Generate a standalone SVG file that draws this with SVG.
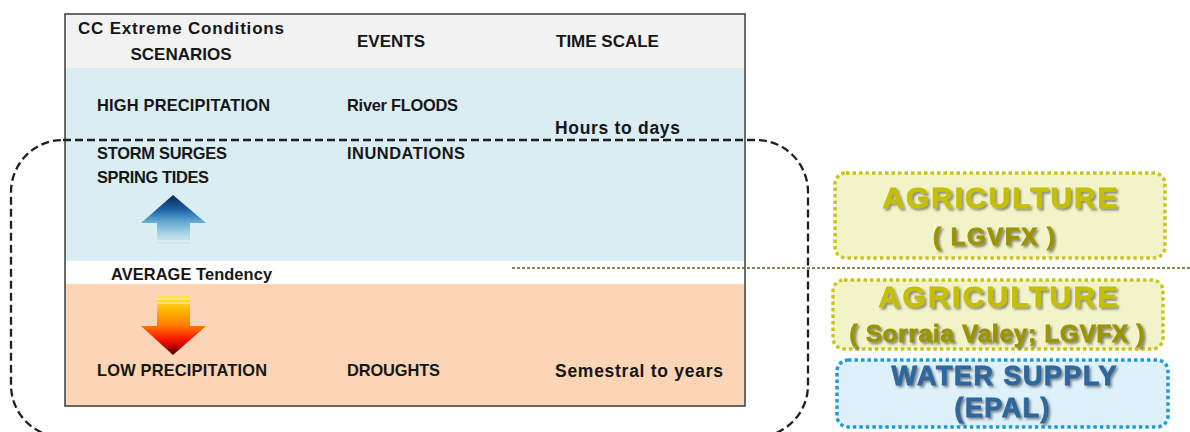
<svg xmlns="http://www.w3.org/2000/svg" width="1190" height="432" viewBox="0 0 1190 432">
  <style>
    .t { font-family: "Liberation Sans", Arial, sans-serif; font-weight: bold; fill: #161616; }
    .h { font-size: 17px; }
    .c { font-size: 16.4px; }
    .m { font-size: 17.5px; }
    .box-agri { fill: #f3f3c9; stroke: #c9c41a; stroke-width: 3.5; stroke-dasharray: 3.5 3; }
    .box-water { fill: #ddf1fb; stroke: #1e9bd7; stroke-width: 3.5; stroke-dasharray: 3.5 3; }
    .big { font-family: "Liberation Sans", Arial, sans-serif; font-weight: bold; text-anchor: middle; filter: url(#soft); stroke-width: 0.9; }
    .agri1 { fill: #c4bf00; stroke: #c4bf00; font-size: 30px; }
    .agri2 { fill: #9a9400; stroke: #9a9400; font-size: 24px; }
    .water { fill: #2f679c; stroke: #2f679c; font-size: 27px; }
  </style>
  <defs>
    <filter id="soft" x="-10%" y="-30%" width="120%" height="160%">
      <feDropShadow dx="2" dy="2" stdDeviation="1" flood-color="#4a4a4a" flood-opacity="0.6"/>
    </filter>
    <linearGradient id="upGrad" x1="0" y1="0" x2="0" y2="1">
      <stop offset="0" stop-color="#0a2550"/>
      <stop offset="0.28" stop-color="#1b63a6"/>
      <stop offset="0.5" stop-color="#64a8d1"/>
      <stop offset="0.78" stop-color="#b8dcea"/>
      <stop offset="1" stop-color="#daedf3"/>
    </linearGradient>
    <linearGradient id="downGrad" x1="0" y1="0" x2="0" y2="1">
      <stop offset="0" stop-color="#ffe35a"/>
      <stop offset="0.2" stop-color="#ffc000"/>
      <stop offset="0.5" stop-color="#ff7a00"/>
      <stop offset="0.72" stop-color="#ff1a00"/>
      <stop offset="0.87" stop-color="#b80000"/>
      <stop offset="1" stop-color="#3a0000"/>
    </linearGradient>
  </defs>

  <!-- scenario table -->
  <g id="table">
    <rect x="65" y="14" width="680" height="54" fill="#f2f2f2"/>
    <rect x="65" y="68" width="680" height="193" fill="#daedf3"/>
    <rect x="65" y="261" width="680" height="23" fill="#ffffff"/>
    <rect x="65" y="284" width="680" height="122" fill="#fbd5b5"/>
    <rect x="65" y="14" width="680" height="392" fill="none" stroke="#3c3c3c" stroke-width="1.5"/>

    <text class="t h" x="181" y="34" text-anchor="middle" textLength="206">CC Extreme Conditions</text>
    <text class="t h" x="181" y="60" text-anchor="middle">SCENARIOS</text>
    <text class="t h" x="357" y="47">EVENTS</text>
    <text class="t h" x="556" y="47">TIME SCALE</text>

    <text class="t c" x="97" y="111" textLength="173">HIGH PRECIPITATION</text>
    <text class="t c" x="347" y="111" textLength="111">River FLOODS</text>
    <text class="t m" x="555" y="134" textLength="125">Hours to days</text>
    <text class="t c" x="97" y="159" textLength="130">STORM SURGES</text>
    <text class="t c" x="347" y="159" textLength="118">INUNDATIONS</text>
    <text class="t c" x="97" y="183" textLength="112">SPRING TIDES</text>

    <text class="t c" x="111" y="280" textLength="161">AVERAGE Tendency</text>

    <text class="t c" x="97" y="376" textLength="170">LOW PRECIPITATION</text>
    <text class="t c" x="347" y="376" textLength="93">DROUGHTS</text>
    <text class="t m" x="555" y="377" textLength="168">Semestral to years</text>
  </g>

  <!-- tendency arrows -->
  <g id="arrow-up">
    <path d="M173,195 L206,223 L190,223 L190,248 L157,248 L157,223 L141,223 Z" fill="url(#upGrad)"/>
    <line x1="157" y1="241" x2="190" y2="241" stroke="#e8f4f8" stroke-width="1"/>
    <line x1="157" y1="245" x2="190" y2="245" stroke="#e8f4f8" stroke-width="1"/>
  </g>
  <g id="arrow-down">
    <path d="M157,296 L190,296 L190,326 L206,326 L173,355 L141,326 L157,326 Z" fill="url(#downGrad)"/>
    <line x1="157" y1="299" x2="190" y2="299" stroke="#fff3b0" stroke-width="1"/>
    <line x1="157" y1="303" x2="190" y2="303" stroke="#fff3b0" stroke-width="1"/>
  </g>

  <!-- grouping outline and divider -->
  <g id="connectors">
    <rect x="11" y="140" width="797" height="297" rx="52" ry="52" fill="none" stroke="#1f1f1f" stroke-width="2.3" stroke-dasharray="8 4"/>
    <line x1="512" y1="268" x2="1190" y2="268" stroke="#5e5c14" stroke-width="1.3" stroke-dasharray="3 2"/>
  </g>

  <!-- sector boxes -->
  <g id="agriculture-lgvfx">
    <rect class="box-agri" x="835" y="173" width="330" height="85" rx="11"/>
    <text class="big agri1" x="1000" y="208" textLength="235">AGRICULTURE</text>
    <text class="big agri2" x="994" y="245" textLength="122">( LGVFX )</text>
  </g>
  <g id="agriculture-sorraia">
    <rect class="box-agri" x="833" y="280" width="330" height="69" rx="11"/>
    <text class="big agri1" x="998" y="307" textLength="239">AGRICULTURE</text>
    <text class="big agri2" x="997" y="342" textLength="295">( Sorraia Valey; LGVFX )</text>
  </g>
  <g id="water-supply">
    <rect class="box-water" x="837" y="360" width="331" height="67" rx="11"/>
    <text class="big water" x="1004" y="385" textLength="225">WATER SUPPLY</text>
    <text class="big water" x="1002" y="417" textLength="95">(EPAL)</text>
  </g>
</svg>
